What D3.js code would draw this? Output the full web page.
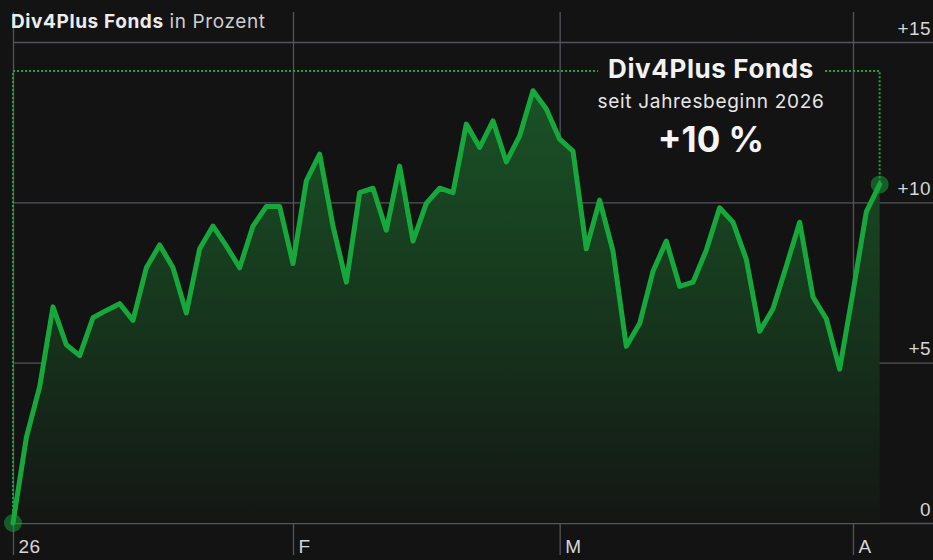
<!DOCTYPE html>
<html>
<head>
<meta charset="utf-8">
<script src="https://cdn.jsdelivr.net/npm/d3@7"></script>
<style>
  html, body { margin: 0; padding: 0; background: #131313; }
  svg { display: block; font-family: Inter, "Noto Sans", sans-serif; }
  .grid line { stroke: #55545e; stroke-width: 1.3; }
  .grid .domain { display: none; }
  .ylab text, .xlab text { fill: #d6d6d6; font-size: 19px; letter-spacing: 0.4px; }
</style>
</head>
<body>
<div id="chart"></div>
<script>
var width = 933;
var height = 560;

// Tageswerte (Handelstage) seit Jahresbeginn, in Prozent
var values = [
  0, 2.66, 4.25, 6.74, 5.56, 5.22, 6.4, 6.63, 6.84, 6.32,
  7.96, 8.67, 7.96, 6.55, 8.55, 9.26, 8.64, 7.96, 9.26, 9.87,
  9.87, 8.09, 10.67, 11.5, 9.26, 7.51, 10.3, 10.44, 9.13, 11.13,
  8.79, 9.97, 10.44, 10.3, 12.44, 11.71, 12.54, 11.26, 12.07, 13.48,
  12.91, 11.97, 11.6, 8.55, 10.07, 8.48, 5.51, 6.22, 7.85, 8.79,
  7.38, 7.51, 8.51, 9.83, 9.38, 8.22, 5.98, 6.68, 8.01, 9.38,
  7.05, 6.37, 4.8, 7.2, 9.7, 10.56
];

// erster Handelstag jedes Monats
var monthIdx = [0, 21, 41, 63];
var monthLabels = ["26", "F", "M", "A"];

var yTicks = [0, 5, 10, 15];

var titleBold = "Div4Plus Fonds";
var titleRest = " in Prozent";
var boxTitle = "Div4Plus Fonds";
var boxSub = "seit Jahresbeginn 2026";
var boxValue = "+10 %";

var padL = 13, padR = 933;
var padT = 42, padB = 523;
var green = "#17a83b";

var svg = d3.select("#chart")
    .append("svg")
    .attr("width", width)
    .attr("height", height);

var x = d3.scaleLinear()
    .domain([0, values.length - 1])
    .range([padL, padL + (values.length - 1) * 13.333]);

var y = d3.scaleLinear()
    .domain([0, 15])
    .range([padB, padT]);

// gradient for area
var defs = svg.append("defs");
var grad = defs.append("linearGradient")
    .attr("id", "fillGrad")
    .attr("gradientUnits", "userSpaceOnUse")
    .attr("x1", 0).attr("x2", 0)
    .attr("y1", y(d3.max(values))).attr("y2", y(0));
grad.append("stop").attr("offset", "0%").attr("stop-color", "#1a5226");
grad.append("stop").attr("offset", "55%").attr("stop-color", "#16341c");
grad.append("stop").attr("offset", "100%").attr("stop-color", "#141614");

// horizontal grid
svg.append("g")
    .attr("class", "grid")
    .attr("transform", `translate(${padR},0)`)
    .call(d3.axisLeft(y).tickValues(yTicks).tickSize(padR - padL).tickFormat(""));

// vertical grid + month labels
var xAxis = svg.append("g")
    .attr("class", "grid xlab")
    .attr("transform", "translate(0,12)")
    .call(d3.axisBottom(x).tickValues(monthIdx).tickSize(543)
        .tickFormat(function(d, i) { return monthLabels[i]; }));
xAxis.selectAll("text")
    .attr("x", 5)
    .attr("y", 541)
    .attr("dy", 0)
    .attr("text-anchor", "start");

// y labels
var yAxis = svg.append("g")
    .attr("class", "ylab")
    .attr("transform", `translate(${padR - 2},0)`)
    .call(d3.axisLeft(y).tickValues(yTicks).tickSize(0)
        .tickFormat(function(d) { return d === 0 ? "0" : "+" + d; }));
yAxis.select(".domain").remove();
yAxis.selectAll("text")
    .attr("x", 0)
    .attr("dy", -8)
    .attr("text-anchor", "end");

// area + line
var area = d3.area()
    .x(function(d, i) { return x(i); })
    .y0(y(0))
    .y1(function(d) { return y(d); });

var line = d3.line()
    .x(function(d, i) { return x(i); })
    .y(function(d) { return y(d); });

svg.append("path")
    .datum(values)
    .attr("d", area)
    .attr("fill", "url(#fillGrad)");

// dotted annotation frame
var last = values.length - 1;
var frameY = 71;
svg.append("path")
    .attr("d", `M${x(0)},${y(0)} V${frameY} H598 M825,${frameY} H${x(last)} V${y(values[last])}`)
    .attr("fill", "none")
    .attr("stroke", green)
    .attr("stroke-width", 2)
    .attr("stroke-dasharray", "2,2");

svg.append("path")
    .datum(values)
    .attr("d", line)
    .attr("fill", "none")
    .attr("stroke", green)
    .attr("stroke-width", 5)
    .attr("stroke-linejoin", "round")
    .attr("stroke-linecap", "round");

// endpoints
svg.selectAll(".endpt")
    .data([0, last])
    .enter()
    .append("circle")
    .attr("class", "endpt")
    .attr("cx", function(i) { return x(i); })
    .attr("cy", function(i) { return y(values[i]); })
    .attr("r", 9)
    .attr("fill", green)
    .attr("fill-opacity", 0.5);

// title
var title = svg.append("text")
    .attr("x", 11)
    .attr("y", 28)
    .attr("font-size", 19)
    .attr("letter-spacing", 0.6);
title.append("tspan").attr("font-weight", 700).attr("fill", "#ececec").text(titleBold);
title.append("tspan").attr("fill", "#cfcfcf").text(titleRest);

// annotation
var cx = 711;
svg.append("text")
    .attr("x", cx).attr("y", 78)
    .attr("text-anchor", "middle")
    .attr("font-size", 26)
    .attr("font-weight", 700)
    .attr("letter-spacing", 0.6)
    .attr("fill", "#f2f2f2")
    .text(boxTitle);
svg.append("text")
    .attr("x", cx).attr("y", 108)
    .attr("text-anchor", "middle")
    .attr("font-size", 19)
    .attr("letter-spacing", 0.7)
    .attr("fill", "#e6e6e6")
    .text(boxSub);
svg.append("text")
    .attr("x", cx).attr("y", 152)
    .attr("text-anchor", "middle")
    .attr("font-size", 35)
    .attr("font-weight", 700)
    .attr("fill", "#f5f5f5")
    .text(boxValue);
</script>
</body>
</html>
